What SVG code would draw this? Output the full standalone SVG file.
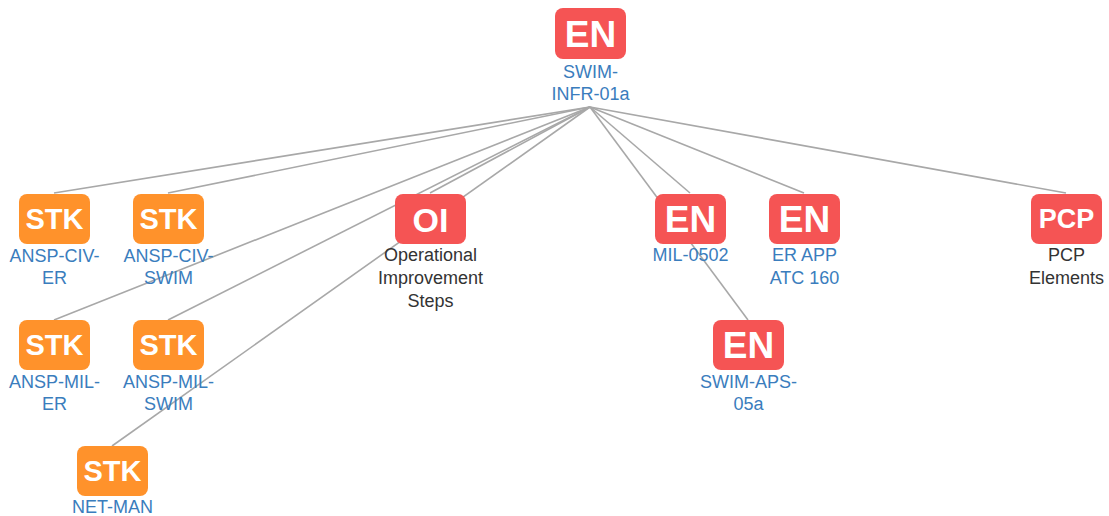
<svg xmlns="http://www.w3.org/2000/svg" width="1109" height="516" viewBox="0 0 1109 516">
<style>
.bg{fill:#ffffff}
.edge{stroke:#a8a8a8;stroke-width:1.6;fill:none}
.en{fill:#f55454}
.stk{fill:#ff922b}
.ic{font-family:"Liberation Sans",Arial,sans-serif;font-weight:bold;fill:#ffffff;text-anchor:middle}
.lb{font-family:"Liberation Sans",Arial,sans-serif;font-size:18px;fill:#3a7dbd;text-anchor:middle}
.ld{font-family:"Liberation Sans",Arial,sans-serif;font-size:18px;fill:#333333;text-anchor:middle}
</style>
<rect class="bg" x="0" y="0" width="1109" height="516"/>
<g id="connectors">
<line class="edge" x1="590" y1="107" x2="54" y2="193"/>
<line class="edge" x1="590" y1="107" x2="168" y2="193"/>
<line class="edge" x1="590" y1="107" x2="430" y2="193"/>
<line class="edge" x1="590" y1="107" x2="54" y2="320"/>
<line class="edge" x1="590" y1="107" x2="168" y2="320"/>
<line class="edge" x1="590" y1="107" x2="112" y2="446"/>
<line class="edge" x1="590" y1="107" x2="690" y2="193"/>
<line class="edge" x1="590" y1="107" x2="748" y2="320"/>
<line class="edge" x1="590" y1="107" x2="804" y2="193"/>
<line class="edge" x1="590" y1="107" x2="1066" y2="193"/>
</g>
<g id="swim-infr-01a">
<rect class="en" x="555" y="8" width="71" height="51" rx="8"/>
<text class="ic" x="590.5" y="47" font-size="37">EN</text>
<text class="lb" x="590.5" y="78">SWIM-</text>
<text class="lb" x="590.5" y="100">INFR-01a</text>
</g>
<g id="ansp-civ-er">
<rect class="stk" x="19" y="194" width="71" height="50" rx="8"/>
<text class="ic" x="54.5" y="229" font-size="29">STK</text>
<text class="lb" x="54.5" y="262">ANSP-CIV-</text>
<text class="lb" x="54.5" y="284">ER</text>
</g>
<g id="ansp-civ-swim">
<rect class="stk" x="133" y="194" width="71" height="50" rx="8"/>
<text class="ic" x="168.5" y="229" font-size="29">STK</text>
<text class="lb" x="168.5" y="262">ANSP-CIV-</text>
<text class="lb" x="168.5" y="284">SWIM</text>
</g>
<g id="oi">
<rect class="en" x="395" y="194" width="71" height="50" rx="8"/>
<text class="ic" x="430.5" y="232" font-size="34">OI</text>
<text class="ld" x="430.5" y="261">Operational</text>
<text class="ld" x="430.5" y="284">Improvement</text>
<text class="ld" x="430.5" y="307">Steps</text>
</g>
<g id="mil-0502">
<rect class="en" x="655" y="194" width="71" height="50" rx="8"/>
<text class="ic" x="690.5" y="232" font-size="37">EN</text>
<text class="lb" x="690.5" y="261">MIL-0502</text>
</g>
<g id="er-app-atc-160">
<rect class="en" x="769" y="194" width="71" height="50" rx="8"/>
<text class="ic" x="804.5" y="232" font-size="37">EN</text>
<text class="lb" x="804.5" y="261">ER APP</text>
<text class="lb" x="804.5" y="284">ATC 160</text>
</g>
<g id="pcp-elements">
<rect class="en" x="1031" y="194" width="71" height="50" rx="8"/>
<text class="ic" x="1066.5" y="228" font-size="27">PCP</text>
<text class="ld" x="1066.5" y="261">PCP</text>
<text class="ld" x="1066.5" y="284">Elements</text>
</g>
<g id="ansp-mil-er">
<rect class="stk" x="19" y="320" width="71" height="50" rx="8"/>
<text class="ic" x="54.5" y="355" font-size="29">STK</text>
<text class="lb" x="54.5" y="388">ANSP-MIL-</text>
<text class="lb" x="54.5" y="410">ER</text>
</g>
<g id="ansp-mil-swim">
<rect class="stk" x="133" y="320" width="71" height="50" rx="8"/>
<text class="ic" x="168.5" y="355" font-size="29">STK</text>
<text class="lb" x="168.5" y="388">ANSP-MIL-</text>
<text class="lb" x="168.5" y="410">SWIM</text>
</g>
<g id="swim-aps-05a">
<rect class="en" x="713" y="320" width="71" height="50" rx="8"/>
<text class="ic" x="748.5" y="358" font-size="37">EN</text>
<text class="lb" x="748.5" y="388">SWIM-APS-</text>
<text class="lb" x="748.5" y="410">05a</text>
</g>
<g id="net-man">
<rect class="stk" x="77" y="446" width="71" height="50" rx="8"/>
<text class="ic" x="112.5" y="481" font-size="29">STK</text>
<text class="lb" x="112.5" y="513">NET-MAN</text>
</g>
</svg>
